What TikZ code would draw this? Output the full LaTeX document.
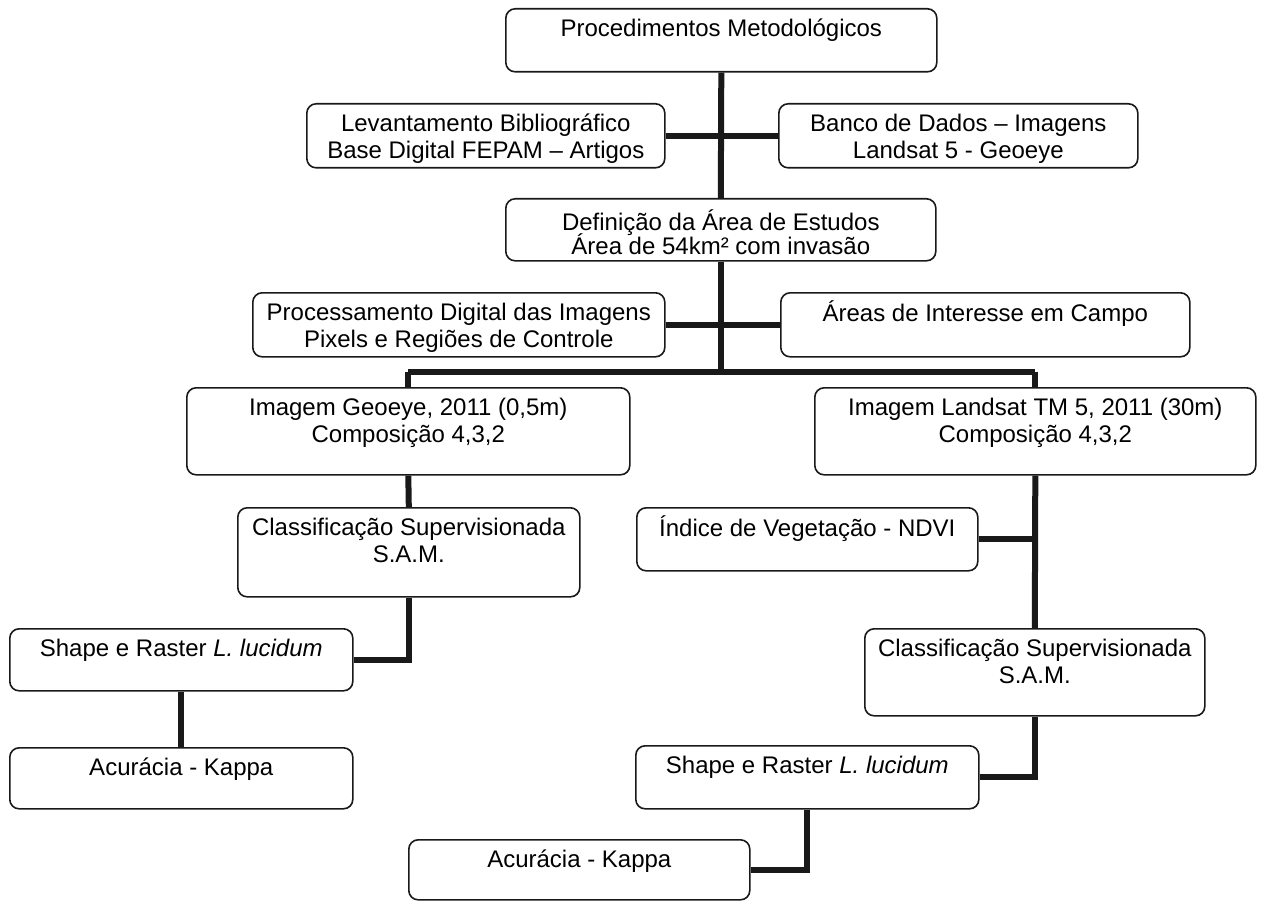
\documentclass[tikz,border=0pt]{standalone}
\usepackage{fontspec}
\usetikzlibrary{calc}
\setmainfont{Liberation Sans}
\newlength\pxu
\setlength\pxu{0.75pt}
\tikzset{
  boxst/.style={draw=black!90, line width=1.2pt, rounded corners=7pt, inner sep=0pt, anchor=north west, fill=white},
  link/.style={draw=black!90, line width=4.5pt},
}
% name, x1, y1, x2, y2, top pad (px), baselineskip (pt), text
\newcommand\myboxs[8]{%
  \node[boxst] (#1) at (#2,#3) {\parbox[c][\dimexpr(#5\pxu-#3\pxu)\relax][t]{\dimexpr(#4\pxu-#2\pxu)\relax}{\centering\fontsize{18}{#7}\selectfont\lineskiplimit=-\maxdimen\vspace*{#6\pxu}\strut #8}};}
\newcommand\mybox[6]{\myboxs{#1}{#2}{#3}{#4}{#5}{8}{20.7}{#6}}
\begin{document}
\begin{tikzpicture}[x=0.75pt,y=-0.75pt]
\useasboundingbox (0,0) rectangle (1262,902);
\mybox{proc}{505}{8}{936}{71}{Procedimentos Metodológicos}
\mybox{lev}{306}{103}{664}{167}{Levantamento Bibliográfico\\Base Digital FEPAM – Artigos}
\mybox{banco}{778}{103}{1137}{167}{Banco de Dados – Imagens\\Landsat 5 - Geoeye}
\myboxs{def}{505}{198}{935}{260}{11}{18.2}{Definição da Área de Estudos\\Área de 54km² com invasão}
\mybox{pdi}{252}{292}{664}{356}{Processamento Digital das Imagens\\Pixels e Regiões de Controle}
\mybox{areas}{780}{292}{1189}{356}{Áreas de Interesse em Campo}
\mybox{geo}{186}{387}{629}{474}{Imagem Geoeye, 2011 (0,5m)\\Composição 4,3,2}
\mybox{land}{814}{387}{1255}{474}{Imagem Landsat TM 5, 2011 (30m)\\Composição 4,3,2}
\mybox{clsL}{237}{507}{579}{596}{Classificação Supervisionada\\S.A.M.}
\mybox{ndvi}{636}{507}{977}{570}{Índice de Vegetação - NDVI}
\mybox{shpL}{9}{628}{352}{690}{Shape e Raster \textit{L. lucidum}}
\mybox{acuL}{9}{747}{352}{808}{Acurácia - Kappa}
\mybox{clsR}{864}{628}{1204}{715}{Classificação Supervisionada\\S.A.M.}
\mybox{shpR}{635}{745}{978}{808}{Shape e Raster \textit{L. lucidum}}
\mybox{acuB}{408}{839}{749}{899}{Acurácia - Kappa}
\coordinate (b1) at ($(def.south)+(0,110)$);
\coordinate (jL) at (geo.north |- b1);
\coordinate (jR) at (land.north |- b1);
\draw[link] (proc.south) -- (def.north);
\draw[link] (lev.east) -- (banco.west);
\draw[link] (def.south) -- (b1);
\draw[link] (pdi.east) -- (areas.west);
\draw[link] (jL) -- (jR);
\draw[link] (jL) -- (geo.north);
\draw[link] (jR) -- (land.north);
\draw[link] (geo.south) -- (clsL.north);
\draw[link] (clsL.south) |- (shpL.east);
\draw[link] (shpL.south) -- (acuL.north);
\draw[link] (land.south) -- (clsR.north);
\draw[link] (ndvi.east) -- (ndvi.east -| land.south);
\draw[link] (clsR.south) |- (shpR.east);
\draw[link] (shpR.south) |- (acuB.east);
\end{tikzpicture}
\end{document}
